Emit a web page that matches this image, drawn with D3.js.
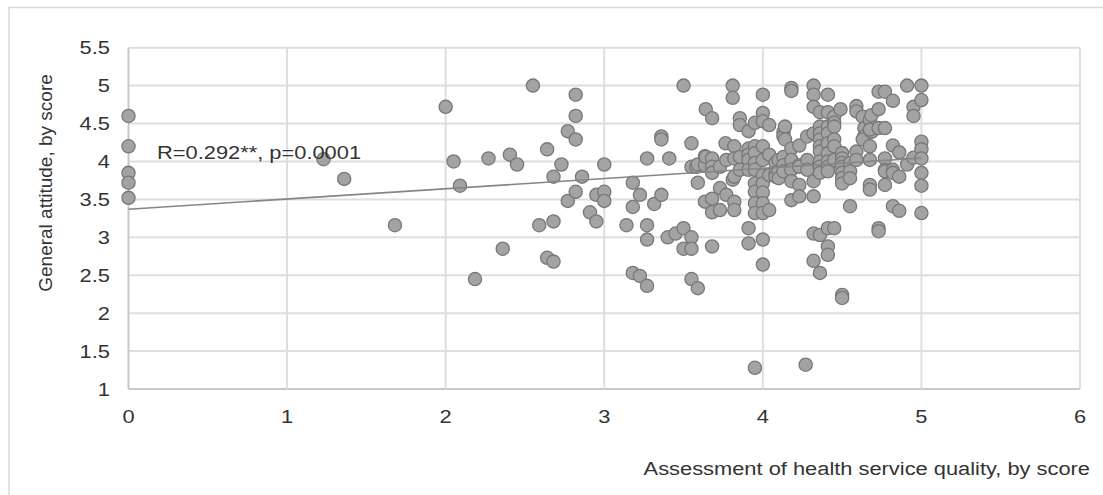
<!DOCTYPE html>
<html>
<head>
<meta charset="utf-8">
<script src="https://cdn.jsdelivr.net/npm/d3@7"></script>
<style>
  body { margin: 0; background: #fff; }
  svg text { font-family: "Liberation Sans", Arial, sans-serif; fill: #333; }
</style>
</head>
<body>
<svg class="canvas"></svg>
<script>
// Setting constants
const wWidth = 1103
const wHeight = 495

// Tick labels
const xTicks = [0, 1, 2, 3, 4, 5, 6]
const yTicks = [1, 1.5, 2, 2.5, 3, 3.5, 4, 4.5, 5, 5.5]

// Points: assessment score (x) and attitude score (y)
const xScore = [
  0, 0, 0, 0, 0,
  1.23, 1.36, 1.68,
  2.0, 2.05, 2.09, 2.185, 2.27, 2.36, 2.405, 2.45, 2.55, 2.59, 2.64, 2.64, 2.68, 2.68, 2.68, 2.73, 2.77, 2.77,
  2.82, 2.82, 2.82, 2.82, 2.86, 2.91, 2.95, 2.95, 3.0, 3.0, 3.0,
  3.14, 3.18, 3.18, 3.18, 3.225, 3.225, 3.27, 3.27, 3.27, 3.27, 3.315, 3.36, 3.36, 3.36, 3.40, 3.41, 3.45,
  3.50, 3.50, 3.50, 3.55, 3.55, 3.55, 3.55, 3.55, 3.59, 3.59, 3.58, 3.59, 3.635, 3.635, 3.635, 3.64, 3.64,
  3.68, 3.68, 3.68, 3.68, 3.68, 3.68, 3.68, 3.73, 3.73, 3.73, 3.765, 3.77, 3.77, 3.81, 3.81, 3.81,
  3.82, 3.82, 3.82, 3.82, 3.82, 3.855, 3.855, 3.855, 3.855, 3.91, 3.91, 3.91, 3.91, 3.91, 3.91, 3.91,
  3.95, 3.95, 3.95, 3.95, 3.95, 3.95, 3.95, 3.95, 3.95, 3.95,
  4.0, 4.0, 4.0, 4.0, 4.0, 4.0, 4.0, 4.0, 4.0, 4.0, 4.0, 4.0,
  4.04, 4.04, 4.04, 4.04, 4.08, 4.08, 4.08, 4.10, 4.10, 4.10,
  4.13, 4.13, 4.13, 4.13, 4.13, 4.14, 4.14,
  4.18, 4.18, 4.18, 4.18, 4.18, 4.18, 4.18,
  4.23, 4.23, 4.23, 4.23, 4.23, 4.27, 4.28, 4.28, 4.28,
  4.32, 4.32, 4.32, 4.32, 4.32, 4.32, 4.32, 4.32,
  4.36, 4.36, 4.36, 4.36, 4.36, 4.36, 4.36, 4.36, 4.36, 4.36, 4.36,
  4.41, 4.41, 4.41, 4.41, 4.41, 4.41, 4.41, 4.41, 4.41, 4.41, 4.41, 4.41,
  4.45, 4.45, 4.45, 4.45, 4.45, 4.45, 4.45,
  4.49, 4.50, 4.50, 4.50, 4.50, 4.50, 4.50, 4.50, 4.50, 4.50,
  4.55, 4.55, 4.55, 4.55, 4.59, 4.59, 4.59, 4.59,
  4.63, 4.64, 4.64, 4.63, 4.675, 4.685, 4.685, 4.675, 4.675, 4.675, 4.675, 4.675,
  4.73, 4.73, 4.73, 4.73, 4.73, 4.77, 4.77, 4.77, 4.77, 4.77, 4.77,
  4.82, 4.82, 4.82, 4.82, 4.82, 4.86, 4.86, 4.86, 4.91, 4.91, 4.95, 4.95, 4.95,
  5.0, 5.0, 5.0, 5.0, 5.0, 5.0, 5.0, 5.0
]
const yScore = [
  4.6, 4.2, 3.85, 3.72, 3.52,
  4.03, 3.77, 3.16,
  4.72, 4.0, 3.68, 2.45, 4.04, 2.85, 4.09, 3.96, 5.0, 3.16, 4.16, 2.73, 3.80, 3.21, 2.68, 3.96, 4.40, 3.48,
  4.88, 4.60, 4.29, 3.60, 3.80, 3.33, 3.21, 3.56, 3.96, 3.60, 3.48,
  3.16, 3.72, 3.40, 2.53, 3.56, 2.49, 4.04, 3.16, 2.97, 2.36, 3.44, 4.33, 4.29, 3.56, 3.0, 4.04, 3.05,
  5.0, 3.12, 2.85, 4.24, 3.0, 2.85, 2.45, 3.93, 3.72, 2.33, 3.93, 3.96, 4.07, 3.95, 3.47, 4.69, 4.06,
  4.57, 4.04, 3.93, 3.85, 3.51, 3.33, 2.88, 3.93, 3.65, 3.36, 4.24, 4.02, 3.56, 5.0, 4.84, 3.76,
  4.20, 4.04, 3.80, 3.47, 3.36, 4.57, 4.48, 3.89, 4.06, 4.40, 4.17, 4.09, 4.02, 3.89, 3.12, 2.92,
  4.51, 4.20, 4.11, 3.98, 3.89, 3.71, 3.60, 3.45, 3.32, 1.28,
  4.88, 4.64, 4.53, 4.20, 4.02, 3.82, 3.71, 3.59, 3.45, 3.32, 2.97, 2.64,
  4.48, 4.09, 3.82, 3.36, 3.98, 3.85, 3.80, 4.02, 3.87, 3.78,
  4.39, 4.33, 4.06, 3.95, 3.87, 4.46, 4.29,
  4.97, 4.93, 4.17, 4.02, 3.89, 3.74, 3.49,
  4.21, 3.95, 3.93, 3.69, 3.54, 1.32, 4.33, 4.02, 3.89,
  5.0, 4.88, 4.72, 4.37, 3.74, 3.54, 3.05, 2.69,
  4.65, 4.46, 4.37, 4.29, 4.20, 4.13, 4.0, 3.93, 3.85, 3.03, 2.53,
  4.88, 4.65, 4.46, 4.37, 4.24, 4.11, 4.0, 3.93, 3.87, 3.12, 2.88, 2.77,
  4.59, 4.51, 4.46, 4.29, 4.20, 4.02, 3.12,
  4.69, 4.11, 4.04, 3.98, 3.93, 3.85, 3.78, 3.71, 2.24, 2.20,
  3.98, 3.87, 3.78, 3.41, 4.73, 4.66, 4.13, 4.02,
  4.59, 4.44, 4.33, 4.29, 4.55, 4.61, 4.39, 4.42, 4.20, 4.02, 3.69, 3.63,
  4.92, 4.69, 4.44, 3.12, 3.08, 4.92, 4.44, 4.04, 3.89, 3.87, 3.69,
  4.80, 4.21, 3.89, 3.85, 3.41, 4.12, 3.80, 3.35, 5.0, 3.96, 4.72, 4.60, 4.05,
  5.0, 4.81, 4.26, 4.16, 4.04, 3.85, 3.68, 3.32
]

// Linear trend line
const trendRange = [0, 5]
const trendIntercept = 3.37
const trendSlope = 0.135
const trendLabel = 'R=0.292**, p=0.0001'

const xTitle = 'Assessment of health service quality, by score'
const yTitle = 'General attitude, by score'

const points = xScore.map((x, i) => ({x: x, y: yScore[i]}))

// Plot area
const plot = {left: 128.5, right: 1080, top: 47.7, bottom: 389}
const stretch = 'scale(1.15,1)'

const svg = d3.select('.canvas')
    .attr('width', wWidth)
    .attr('height', wHeight)

// outer frame
svg.append('path')
    .attr('d', `M9,${wHeight} V7.5 H${wWidth}`)
    .attr('fill', 'none')
    .attr('stroke', '#d9d9d9')
    .attr('stroke-width', 1.5)

const xScale = d3.scaleLinear()
    .domain([0, 6])
    .range([plot.left, plot.right])

const yScale = d3.scaleLinear()
    .domain([1, 5.5])
    .range([plot.bottom, plot.top])

// Gridlines
svg.append('g')
    .selectAll('line')
    .data(yTicks)
    .enter()
    .append('line')
    .attr('x1', plot.left)
    .attr('x2', plot.right)
    .attr('y1', d => yScale(d))
    .attr('y2', d => yScale(d))
    .attr('stroke', d => d === 1 ? '#c8c8c8' : '#dedede')
    .attr('stroke-width', 2)

svg.append('g')
    .selectAll('line')
    .data(xTicks)
    .enter()
    .append('line')
    .attr('x1', d => xScale(d))
    .attr('x2', d => xScale(d))
    .attr('y1', plot.top)
    .attr('y2', plot.bottom)
    .attr('stroke', d => d === 0 ? '#c8c8c8' : '#dedede')
    .attr('stroke-width', 2)

// Tick labels
svg.append('g')
    .selectAll('g')
    .data(yTicks)
    .enter()
    .append('g')
    .attr('transform', d => `translate(110, ${yScale(d)}) ${stretch}`)
    .append('text')
    .attr('text-anchor', 'end')
    .attr('dy', '0.35em')
    .style('font-size', '19px')
    .text(d => d)

svg.append('g')
    .selectAll('g')
    .data(xTicks)
    .enter()
    .append('g')
    .attr('transform', d => `translate(${xScale(d)}, 423) ${stretch}`)
    .append('text')
    .attr('text-anchor', 'middle')
    .style('font-size', '19px')
    .text(d => d)

// Axis titles
svg.append('g')
    .attr('transform', `translate(1090, 475) ${stretch}`)
    .append('text')
    .attr('text-anchor', 'end')
    .style('font-size', '19px')
    .text(xTitle)

svg.append('text')
    .attr('transform', 'translate(52, 183) rotate(-90)')
    .attr('text-anchor', 'middle')
    .style('font-size', '19px')
    .text(yTitle)

// Points
svg.append('g')
    .selectAll('circle')
    .data(points)
    .enter()
    .append('circle')
    .attr('cx', d => xScale(d.x))
    .attr('cy', d => yScale(d.y))
    .attr('r', 6.6)
    .attr('fill', '#a3a3a3')
    .attr('stroke', '#787878')
    .attr('stroke-width', 1.3)

// Trend line
svg.append('line')
    .attr('x1', xScale(trendRange[0]))
    .attr('x2', xScale(trendRange[1]))
    .attr('y1', yScale(trendIntercept + trendSlope * trendRange[0]))
    .attr('y2', yScale(trendIntercept + trendSlope * trendRange[1]))
    .attr('stroke', '#858585')
    .attr('stroke-width', 1.6)

// Correlation label
svg.append('g')
    .attr('transform', `translate(157, 159) ${stretch}`)
    .append('text')
    .style('font-size', '19px')
    .text(trendLabel)
</script>
</body>
</html>
